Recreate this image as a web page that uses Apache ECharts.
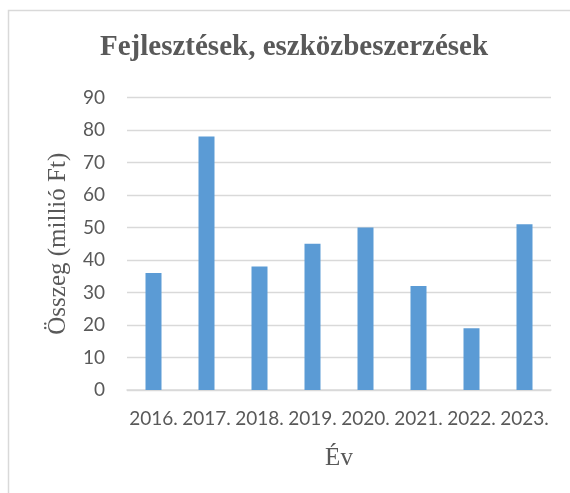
<!DOCTYPE html>
<html>
<head>
<meta charset="utf-8">
<script src="https://cdn.jsdelivr.net/npm/echarts@6/dist/echarts.min.js"></script>
<style>
  html, body { margin: 0; padding: 0; background: #fff; }
  #chart { width: 570px; height: 493px; }
</style>
</head>
<body>
<div id="chart"></div>
<script>
const years = ['2016.', '2017.', '2018.', '2019.', '2020.', '2021.', '2022.', '2023.']
const amounts = [36, 78, 38, 45, 50, 32, 19, 51]
const yTicks = { min: 0, max: 90, step: 10 }

const textGray = '#595959'
const lineGray = '#d9d9d9'
const serif = '"Liberation Serif", "Times New Roman", serif'
const sans = 'Lato, "Noto Sans", sans-serif'

const chart = echarts.init(document.getElementById('chart'))

chart.setOption({
  animation: false,
  backgroundColor: '#fff',
  graphic: [{
    type: 'rect',
    shape: { x: 8.5, y: 10.5, width: 700, height: 700 },
    style: { fill: 'none', stroke: lineGray, lineWidth: 1.5 },
    silent: true
  }],
  title: {
    text: 'Fejlesztések, eszközbeszerzések',
    left: 95,
    top: 28,
    textStyle: { fontFamily: serif, fontWeight: 'bold', fontSize: 29, color: textGray }
  },
  grid: { left: 127, right: 19, top: 97.5, bottom: 103 },
  xAxis: {
    type: 'category',
    data: years,
    name: 'Év',
    nameLocation: 'middle',
    nameGap: 56,
    nameTextStyle: { fontFamily: serif, fontSize: 25, color: textGray },
    axisTick: { show: false },
    axisLine: { lineStyle: { color: lineGray, width: 1.5 } },
    axisLabel: { fontFamily: sans, fontSize: 19, color: textGray, margin: 19, interval: 0 }
  },
  yAxis: {
    type: 'value',
    min: yTicks.min,
    max: yTicks.max,
    interval: yTicks.step,
    name: 'Összeg (millió Ft)',
    nameLocation: 'middle',
    nameGap: 56,
    nameTextStyle: { fontFamily: serif, fontSize: 25, color: textGray },
    axisLine: { show: false },
    axisTick: { show: false },
    splitLine: { lineStyle: { color: lineGray, width: 1.3 } },
    axisLabel: { fontFamily: sans, fontSize: 19, color: textGray, margin: 22 }
  },
  series: [{
    type: 'bar',
    data: amounts,
    barWidth: 16,
    itemStyle: { color: '#5B9BD5' }
  }]
})
</script>
</body>
</html>
